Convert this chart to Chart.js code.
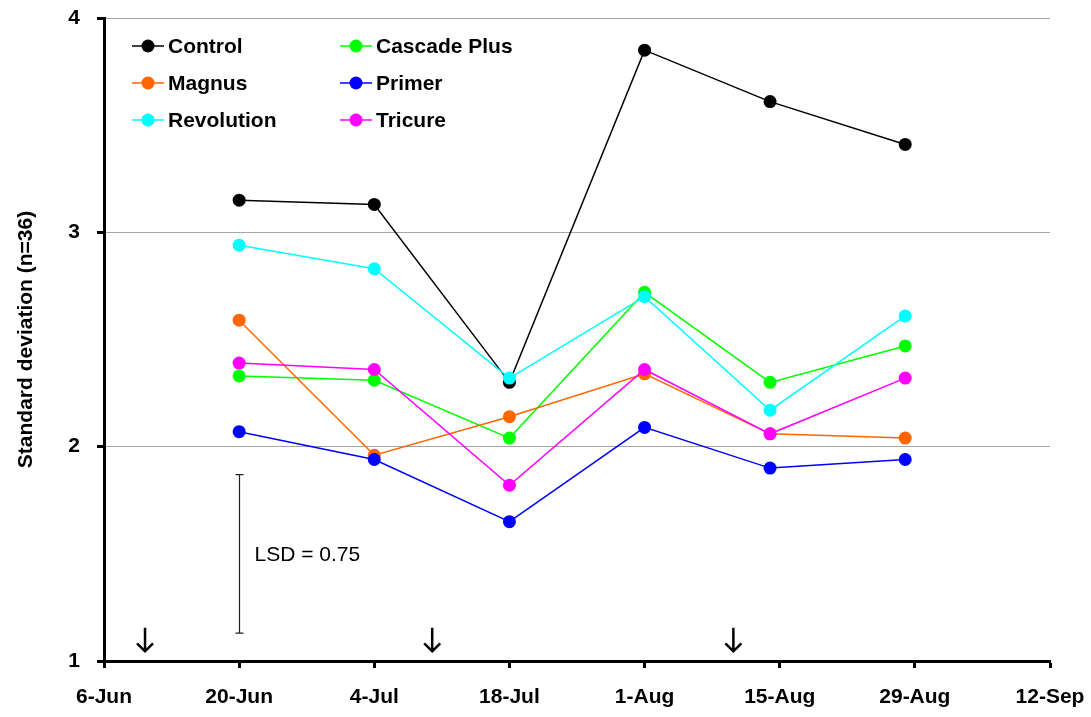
<!DOCTYPE html>
<html lang="en">
<head>
    <meta charset="UTF-8">
    <script src="https://cdn.jsdelivr.net/npm/chart.js@4.4.1/dist/chart.umd.min.js"></script>
    <title>Standard deviation</title>
    <style>
        body {
            margin: 0;
            background: #fff;
        }
        #wrap {
            width: 1091px;
            height: 717px;
        }
    </style>
</head>
<body>
<div id="wrap"><canvas id="sdChart"></canvas></div>
<script>
    // days after 6-Jun
    const sampleDays = [14, 28, 42, 56, 69, 83];
    const tickLabels = ["6-Jun", "20-Jun", "4-Jul", "18-Jul", "1-Aug", "15-Aug", "29-Aug", "12-Sep"];

    const control     = [3.15, 3.13, 2.30, 3.85, 3.61, 3.41];
    const cascadePlus = [2.33, 2.31, 2.04, 2.72, 2.30, 2.47];
    const magnus      = [2.59, 1.96, 2.14, 2.34, 2.06, 2.04];
    const primer      = [2.07, 1.94, 1.65, 2.09, 1.90, 1.94];
    const revolution  = [2.94, 2.83, 2.32, 2.70, 2.17, 2.61];
    const tricure     = [2.39, 2.36, 1.82, 2.36, 2.06, 2.32];

    // LSD bar and spray arrows (annotations)
    const lsdDay = 14;
    const lsdValue = 0.75;
    const lsdRange = [1.13, 1.87];
    const arrowDays = [4.25, 34, 65.2];

    const seriesNames = ["Control", "Cascade Plus", "Magnus", "Primer", "Revolution", "Tricure"];
    const seriesValues = [control, cascadePlus, magnus, primer, revolution, tricure];
    const seriesColors = ["#000000", "#00ff00", "#ff6600", "#0000ff", "#00ffff", "#ff00ff"];

    const FONT = "'Liberation Sans', Arial, sans-serif";

    const datasets = seriesNames.map((name, i) => ({
        label: name,
        data: sampleDays.map((d, j) => ({ x: d, y: seriesValues[i][j] })),
        borderColor: seriesColors[i],
        backgroundColor: seriesColors[i],
        borderWidth: 1.5,
        pointRadius: 6.5,
        pointBorderWidth: 0,
        tension: 0,
        order: seriesNames.length - i
    }));

    // legend in two columns, drawn by hand
    const legendPlugin = {
        id: 'twoColLegend',
        afterDraw(chart) {
            const ctx = chart.ctx;
            const cols = [[0, 2, 4], [1, 3, 5]];
            const colX = [148, 356];
            const rowY = [46, 83, 120];
            ctx.save();
            ctx.font = "bold 21px " + FONT;
            ctx.textBaseline = 'middle';
            ctx.textAlign = 'left';
            cols.forEach((col, c) => {
                col.forEach((idx, r) => {
                    const x = colX[c], y = rowY[r];
                    ctx.strokeStyle = seriesColors[idx];
                    ctx.lineWidth = 1.5;
                    ctx.beginPath();
                    ctx.moveTo(x - 16, y);
                    ctx.lineTo(x + 16, y);
                    ctx.stroke();
                    ctx.fillStyle = seriesColors[idx];
                    ctx.beginPath();
                    ctx.arc(x, y, 6.5, 0, Math.PI * 2);
                    ctx.fill();
                    ctx.fillStyle = '#000';
                    ctx.fillText(seriesNames[idx], x + 20, y + 1);
                });
            });
            ctx.restore();
        }
    };

    const annotPlugin = {
        id: 'lsdArrows',
        afterDatasetsDraw(chart) {
            const ctx = chart.ctx;
            const xs = chart.scales.x, ys = chart.scales.y;
            ctx.save();
            // LSD bar
            const lx = Math.round(xs.getPixelForValue(lsdDay)) + 0.5;
            const y1 = ys.getPixelForValue(lsdRange[1]);
            const y2 = ys.getPixelForValue(lsdRange[0]);
            ctx.strokeStyle = '#222';
            ctx.lineWidth = 1.2;
            ctx.beginPath();
            ctx.moveTo(lx, y1); ctx.lineTo(lx, y2);
            ctx.moveTo(lx - 4, y1); ctx.lineTo(lx + 4, y1);
            ctx.moveTo(lx - 4, y2); ctx.lineTo(lx + 4, y2);
            ctx.stroke();
            ctx.fillStyle = '#000';
            ctx.font = "21px " + FONT;
            ctx.textBaseline = 'middle';
            ctx.fillText("LSD = " + lsdValue.toFixed(2), lx + 15, (y1 + y2) / 2 + 1);
            // arrows
            ctx.lineWidth = 2.5;
            ctx.strokeStyle = '#000';
            arrowDays.forEach(d => {
                const ax = xs.getPixelForValue(d);
                const top = ys.getPixelForValue(1.155);
                const tip = ys.getPixelForValue(1.045);
                ctx.beginPath();
                ctx.moveTo(ax, top); ctx.lineTo(ax, tip);
                ctx.moveTo(ax - 8, tip - 8); ctx.lineTo(ax, tip); ctx.lineTo(ax + 8, tip - 8);
                ctx.stroke();
            });
            ctx.restore();
        }
    };

    new Chart(document.getElementById('sdChart'), {
        type: 'line',
        data: { datasets: datasets },
        plugins: [legendPlugin, annotPlugin],
        options: {
            responsive: true,
            maintainAspectRatio: false,
            animation: false,
            layout: { padding: { top: 18, right: 41, left: 0, bottom: 0 } },
            plugins: {
                legend: { display: false },
                tooltip: { enabled: false }
            },
            scales: {
                x: {
                    type: 'linear',
                    min: 0,
                    max: 98,
                    afterFit(scale) {
                        scale.height = 56;
                        scale.paddingLeft = 0;
                        scale.paddingRight = 0;
                    },
                    afterBuildTicks(scale) {
                        scale.ticks = tickLabels.map((t, i) => ({ value: i * 14 }));
                    },
                    ticks: {
                        color: '#000',
                        font: { family: FONT, size: 21, weight: 'bold' },
                        padding: 17,
                        maxRotation: 0,
                        autoSkip: false,
                        callback: (v) => tickLabels[Math.round(v / 14)]
                    },
                    grid: {
                        drawOnChartArea: false,
                        tickColor: '#000',
                        tickLength: 7,
                        tickWidth: 3
                    },
                    border: { color: '#000', width: 3 }
                },
                y: {
                    min: 1,
                    max: 4,
                    afterFit(scale) {
                        scale.width = 104;
                        scale.paddingTop = 0;
                        scale.paddingBottom = 0;
                    },
                    ticks: {
                        stepSize: 1,
                        color: '#000',
                        padding: 17,
                        font: { family: FONT, size: 21, weight: 'bold' }
                    },
                    grid: {
                        color: '#a6a6a6',
                        lineWidth: 1,
                        tickColor: '#000',
                        tickLength: 7,
                        tickWidth: 3
                    },
                    border: { color: '#000', width: 3 },
                    title: {
                        display: true,
                        text: 'Standard deviation (n=36)',
                        color: '#000',
                        font: { family: FONT, size: 21, weight: 'bold' },
                        padding: { top: 14, bottom: 0 }
                    }
                }
            }
        }
    });
</script>
</body>
</html>
